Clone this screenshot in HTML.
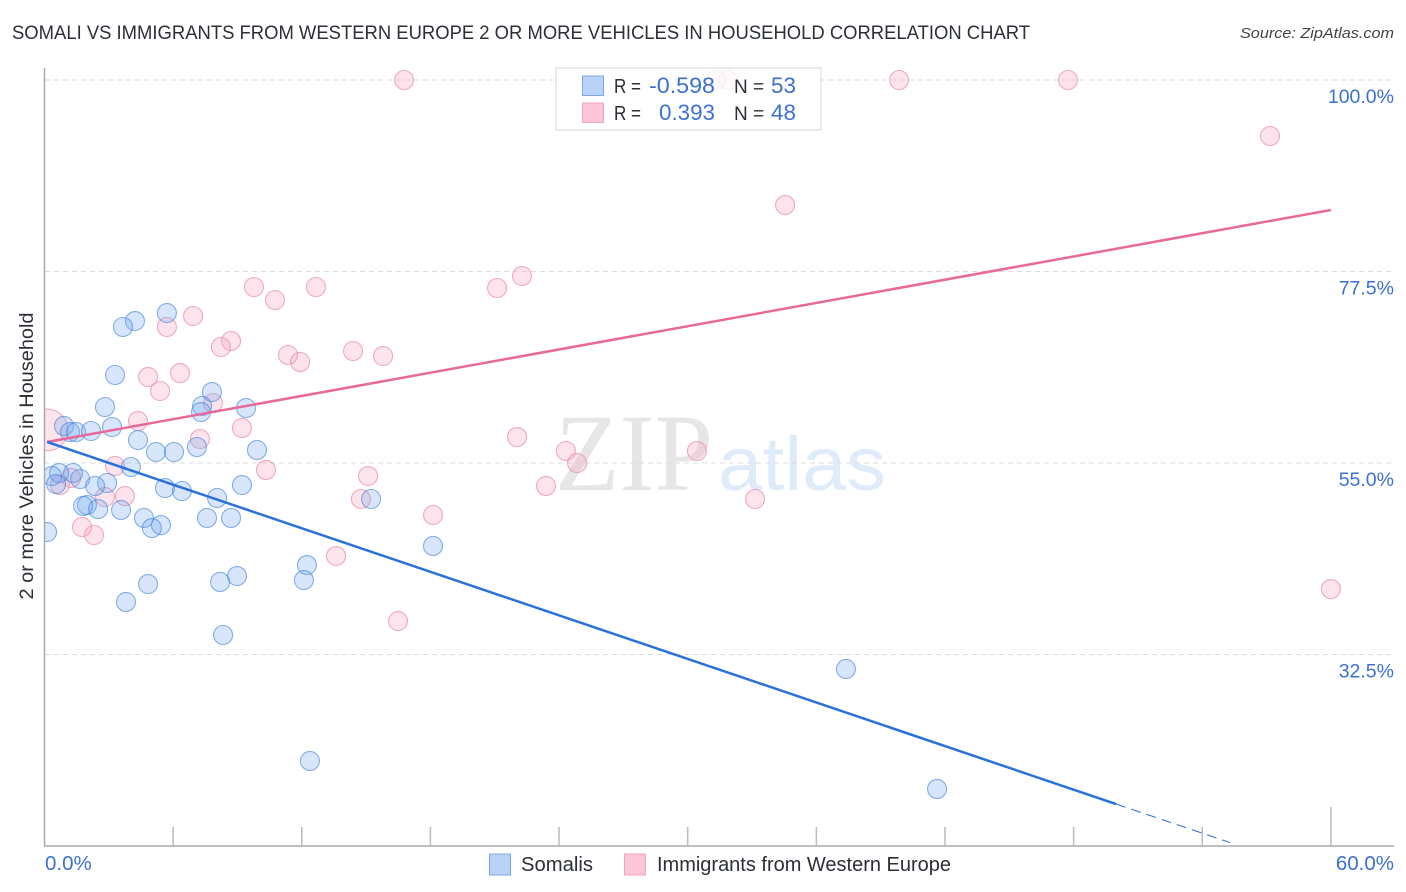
<!DOCTYPE html>
<html lang="en">
<head>
<meta charset="utf-8">
<title>Somali vs Immigrants from Western Europe 2 or more Vehicles in Household Correlation Chart</title>
<style>
html,body{margin:0;padding:0;background:#fff;width:1406px;height:892px;overflow:hidden}
svg{display:block}
text{font-family:"Liberation Sans",sans-serif}
</style>
</head>
<body>
<svg id="chart" xmlns="http://www.w3.org/2000/svg" width="1406" height="892" viewBox="0 0 1406 892">
  <text x="12" y="39" font-size="19" fill="#2b2f36" textLength="1018" lengthAdjust="spacingAndGlyphs">SOMALI VS IMMIGRANTS FROM WESTERN EUROPE 2 OR MORE VEHICLES IN HOUSEHOLD CORRELATION CHART</text>
  <text x="1394" y="38" font-size="15" font-style="italic" fill="#444" text-anchor="end" textLength="154" lengthAdjust="spacingAndGlyphs">Source: ZipAtlas.com</text>
  <g>
    <text x="555" y="490" font-size="110" style="font-family:'Liberation Serif',serif" fill="#e6e6e6" textLength="158" lengthAdjust="spacingAndGlyphs">ZIP</text>
    <text x="718" y="490" font-size="76" fill="#e0ebfa" textLength="168" lengthAdjust="spacingAndGlyphs">atlas</text>
  </g>
  <g id="grid"></g>
  <svg x="45" y="60" width="1361" height="786" viewBox="45 60 1361 786" overflow="hidden" style="overflow:hidden">
    <g id="marks"></g>
  </svg>
  <rect x="0" y="60" width="44.5" height="800" fill="#ffffff"/>
  <g id="axes"></g>
  <g id="trends"></g>
  <g id="labels"></g>
  <text transform="translate(33,456) rotate(-90)" font-size="19" fill="#2b2f36" text-anchor="middle" textLength="287" lengthAdjust="spacingAndGlyphs">2 or more Vehicles in Household</text>

  <g>
    <rect x="556" y="68" width="265" height="62" fill="#fff" fill-opacity="0.8" stroke="#d6d6d6" stroke-width="1"/>
    <rect x="582.500" y="76" width="21" height="19.500" fill="#b8d3f7" stroke="#7fa8e0"/>
    <rect x="582.500" y="103" width="21" height="19.500" fill="#fcc5d8" stroke="#f0a5bf"/>
    <text x="614" y="93" font-size="20" fill="#2b2f36" textLength="27" lengthAdjust="spacingAndGlyphs">R =</text>
    <text x="649" y="93" font-size="22" fill="#3b71d1" textLength="66" lengthAdjust="spacingAndGlyphs">-0.598</text>
    <text x="734" y="93" font-size="19" fill="#2b2f36">N =</text>
    <text x="771" y="93" font-size="22" fill="#3b71d1" textLength="25" lengthAdjust="spacingAndGlyphs">53</text>
    <text x="614" y="120" font-size="20" fill="#2b2f36" textLength="27" lengthAdjust="spacingAndGlyphs">R =</text>
    <text x="659" y="120" font-size="22" fill="#3b71d1" textLength="56" lengthAdjust="spacingAndGlyphs">0.393</text>
    <text x="734" y="120" font-size="19" fill="#2b2f36">N =</text>
    <text x="771" y="120" font-size="22" fill="#3b71d1" textLength="25" lengthAdjust="spacingAndGlyphs">48</text>
  </g>

  <g>
    <rect x="489.500" y="854" width="21" height="21" fill="#b8d3f7" stroke="#7fa8e0"/>
    <text x="521" y="871" font-size="20" fill="#2b2f36" textLength="72" lengthAdjust="spacingAndGlyphs">Somalis</text>
    <rect x="624.500" y="854" width="21" height="21" fill="#fcc5d8" stroke="#f0a5bf"/>
    <text x="657" y="871" font-size="20" fill="#2b2f36" textLength="294" lengthAdjust="spacingAndGlyphs">Immigrants from Western Europe</text>
  </g>
</svg>
<script>
const somaliX = [5.71,4.22,3.66,3.29,7.81,2.82,9.40,7.35,7.30,0.91,3.15,1.19,1.47,2.17,4.36,7.11,5.20,6.04,9.91,4.03,1.33,0.68,0.35,1.66,0.54,2.92,2.36,9.21,5.62,6.41,8.05,15.23,1.98,1.80,2.50,3.57,4.64,7.58,8.70,5.43,5.01,0.12,18.12,12.24,8.98,12.10,8.19,4.83,3.80,8.33,37.38,12.38,41.63];
const somaliY = [72.62,71.68,70.98,65.34,63.34,61.58,61.46,61.70,60.99,59.35,59.23,58.64,58.64,58.76,57.70,56.88,56.29,56.29,56.53,54.53,53.82,53.82,53.47,53.12,52.53,52.65,52.30,52.41,52.06,51.71,50.89,50.77,50.06,49.95,49.59,49.48,48.54,48.54,48.54,47.71,47.36,46.89,45.25,43.01,41.72,41.25,41.02,40.78,38.67,34.79,30.80,19.99,16.70];
const immigrantX = [0.12,16.77,31.32,31.88,39.86,47.74,57.16,34.54,22.27,21.11,9.77,12.66,10.75,6.93,5.71,8.70,8.23,14.39,11.36,15.79,11.92,6.32,4.83,5.39,7.86,4.36,9.21,7.25,22.04,24.32,30.43,24.84,3.29,10.33,15.09,1.24,0.72,23.39,3.75,2.82,14.76,33.14,18.12,1.75,2.31,13.60,60.00,16.49];
const immigrantY = [58.88,100,100,100,100,100,93.42,85.31,76.97,75.56,75.68,75.68,74.15,72.27,70.98,69.33,68.63,68.16,67.69,67.57,66.87,65.57,65.10,63.46,62.05,59.93,59.11,57.82,58.05,56.41,56.41,55.00,54.65,54.18,53.47,53.24,52.41,52.30,51.12,51.00,50.77,50.77,48.89,47.48,46.54,44.07,40.19,36.43];
const immigrantWeight = [2.2,1,1,1,1,1,1,1,1,1,1,1,1,1,1,1,1,1,1,1,1,1,1,1,1,1,1,1,1,1,1,1,1,1,1,1,1,1,1,1,1,1,1,1,1,1,1,1];
const somaliTrendX = [0.12,49.98,55.30];
const somaliTrendY = [57.47,14.93,10.40];
const immigrantTrendX = [0.12,60];
const immigrantTrendY = [57.47,84.73];
const yTicks = [100,77.5,55,32.5];
const yTickLabels = ["100.0%","77.5%","55.0%","32.5%"];
const xTicks = [0,6,12,18,24,30,36,42,48,54,60];

const NS = 'http://www.w3.org/2000/svg';
const sx = v => 44.5 + v * 21.44;
const sy = v => 80 + (100 - v) * 8.511;
const BASE_R = 9.5;

function make(tag, parent, attrs) {
  const el = document.createElementNS(NS, tag);
  for (const k in attrs) el.setAttribute(k, attrs[k]);
  parent.appendChild(el);
  return el;
}
const grid = document.getElementById('grid');
const axes = document.getElementById('axes');
const marks = document.getElementById('marks');
const trends = document.getElementById('trends');
const labels = document.getElementById('labels');

yTicks.forEach((t, i) => {
  const g = make('line', grid, {x1: 45, x2: 1393, y1: sy(t), y2: sy(t), stroke: '#dcdcdc', 'stroke-width': 1, 'stroke-dasharray': '5 4'});
  
  
  const l = make('text', labels, {x: 1394, y: sy(t) + 23, 'font-size': 19.5, fill: '#3b71d1', 'text-anchor': 'end'});
  l.textContent = yTickLabels[i];
  
  
});

const yAxis = make('line', axes, {x1: 44.5, x2: 44.5, y1: 68, y2: 846.500, stroke: '#aaa', 'stroke-width': 1.500});


const xAxis = make('line', axes, {x1: 44, x2: 1394, y1: 846, y2: 846, stroke: '#aaa', 'stroke-width': 1.500});


xTicks.forEach(t => {
  if (t === 0) return;
  const top = t === 60 ? 807 : 827;
  const tick = make('line', axes, {x1: sx(t), x2: sx(t), y1: top, y2: 846, stroke: '#bbb', 'stroke-width': 1.500});
  
  
});
const x0 = make('text', labels, {x: 45, y: 870, 'font-size': 20.5, fill: '#3b71d1'});
x0.textContent = '0.0%';


const x60 = make('text', labels, {x: 1394, y: 870, 'font-size': 20.5, fill: '#3b71d1', 'text-anchor': 'end'});
x60.textContent = '60.0%';



immigrantX.forEach((v, i) => {
  const c = make('circle', marks, {cx: sx(v), cy: sy(immigrantY[i]), r: BASE_R * immigrantWeight[i], fill: '#f7a8c4', 'fill-opacity': 0.32, stroke: '#e88aaa', 'stroke-opacity': 0.7, 'stroke-width': 1.1});
  
  
});
somaliX.forEach((v, i) => {
  const c = make('circle', marks, {cx: sx(v), cy: sy(somaliY[i]), r: BASE_R, fill: '#6ea6ec', 'fill-opacity': 0.28, stroke: '#3f82dc', 'stroke-opacity': 0.62, 'stroke-width': 1.1});
  
  
});

const t1 = make('line', trends, {x1: sx(immigrantTrendX[0]), y1: sy(immigrantTrendY[0]), x2: sx(immigrantTrendX[1]), y2: sy(immigrantTrendY[1]), stroke: '#e8689a', 'stroke-width': 2.500});


const t2 = make('line', trends, {x1: sx(somaliTrendX[0]), y1: sy(somaliTrendY[0]), x2: sx(somaliTrendX[1]), y2: sy(somaliTrendY[1]), stroke: '#2a72d9', 'stroke-width': 2.500});


const t3 = make('line', trends, {x1: sx(somaliTrendX[1]), y1: sy(somaliTrendY[1]), x2: sx(somaliTrendX[2]), y2: sy(somaliTrendY[2]), stroke: '#2a72d9', 'stroke-width': 1, 'stroke-dasharray': '10 6'});


</script>
</body>
</html>
